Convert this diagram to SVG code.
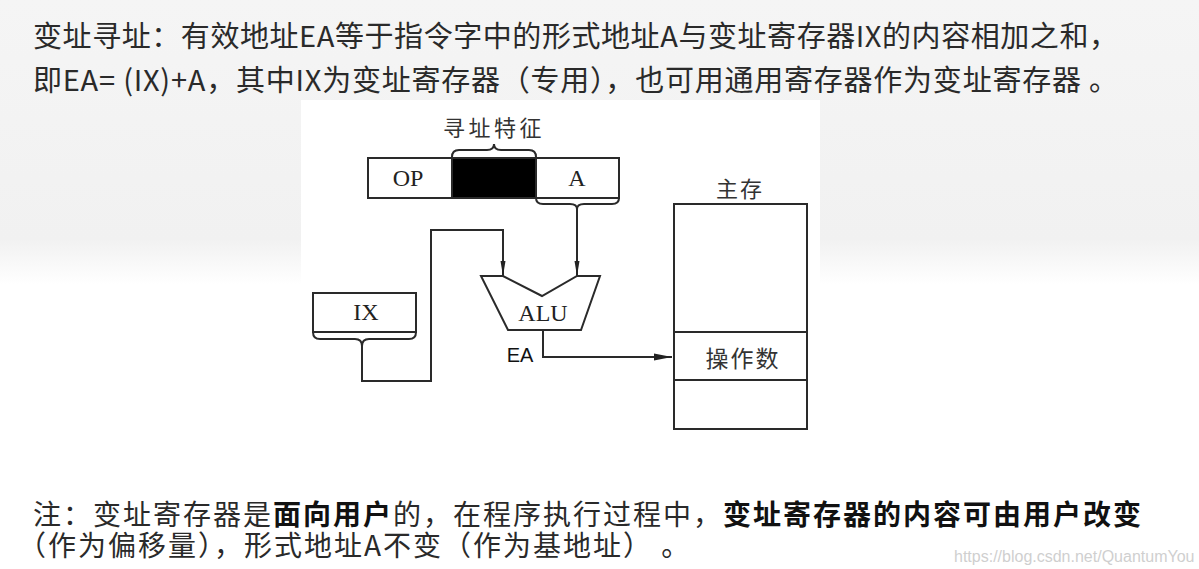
<svg xmlns="http://www.w3.org/2000/svg" width="1199" height="569" viewBox="0 0 1199 569">
<defs>
<linearGradient id="bg" x1="0" y1="0" x2="0" y2="1">
<stop offset="0" stop-color="#f5f5f5"/>
<stop offset="0.42" stop-color="#f1f1f1"/>
<stop offset="0.50" stop-color="#ffffff"/>
<stop offset="1" stop-color="#ffffff"/>
</linearGradient>
<marker id="arrDown" markerUnits="userSpaceOnUse" markerWidth="16" markerHeight="10" refX="15" refY="4" orient="auto">
<path d="M0,1.5 L15,4 L0,6.5 z" fill="#222"/>
</marker>
<marker id="arrRight" markerUnits="userSpaceOnUse" markerWidth="20" markerHeight="10" refX="18" refY="4.5" orient="auto">
<path d="M0,1 L18,4.5 L0,8 z" fill="#222"/>
</marker>
</defs>
<style>
.ln{fill:none;stroke:#2a2a2a;stroke-width:2}
.box{fill:#fff;stroke:#2a2a2a;stroke-width:2}
.top{font-family:"Noto Sans CJK SC","Noto Sans CJK JP",sans-serif;font-size:29px;fill:#2a2a2a}
.note{font-family:"Noto Sans CJK SC","Noto Sans CJK JP",sans-serif;font-size:28px;letter-spacing:2px;fill:#2a2a2a}
.b{font-weight:bold;fill:#111}
.ser{font-family:"Liberation Serif","Times New Roman",serif;font-size:24px;fill:#222;text-anchor:middle}
.cn{font-family:"Noto Sans CJK SC","Noto Sans CJK JP",sans-serif;fill:#333;text-anchor:middle}
</style>
<rect x="0" y="0" width="1199" height="569" fill="url(#bg)"/>
<rect x="301" y="100" width="519" height="469" fill="#ffffff"/>

<g id="header">
<text class="top" x="33" y="47" textLength="1085" lengthAdjust="spacing">变址寻址：有效地址EA等于指令字中的形式地址A与变址寄存器IX的内容相加之和，</text>
<text class="top" x="33" y="91" textLength="1085" lengthAdjust="spacing">即EA= (IX)+A，其中IX为变址寄存器（专用），也可用通用寄存器作为变址寄存器 。</text>
</g>

<g id="instruction">
<rect class="box" x="368" y="158" width="251" height="40"/>
<rect x="452" y="158" width="84" height="40" fill="#000" stroke="#2a2a2a" stroke-width="2"/>
<text class="ser" x="408" y="186">OP</text>
<text class="ser" x="577" y="186">A</text>
<path class="ln" d="M452,157 Q452,150 459,150 L487,150 Q494,150 494,144 Q494,150 501,150 L529,150 Q536,150 536,157"/>
<text class="cn" x="494" y="136" font-size="22" letter-spacing="3.5">寻址特征</text>
</g>

<g id="ix">
<rect class="box" x="313" y="293" width="103" height="39"/>
<text class="ser" x="366" y="320">IX</text>
</g>

<g id="alu">
<polygon class="box" points="481,276 503,276 542,296 577,276 600,276 581,330 508,330"/>
<text class="ser" x="543" y="321">ALU</text>
</g>

<g id="memory">
<rect class="box" x="674" y="204" width="133" height="225"/>
<line class="ln" x1="674" y1="332" x2="807" y2="332"/>
<line class="ln" x1="674" y1="380" x2="807" y2="380"/>
<text class="cn" x="740" y="197" font-size="22" letter-spacing="2">主存</text>
<text class="cn" x="743" y="367" font-size="23" letter-spacing="2">操作数</text>
</g>

<g id="connectors">
<path class="ln" d="M536,198 Q536,204 543,204 L570,204 Q577,204 577,209 Q577,204 584,204 L612,204 Q619,204 619,198"/>
<path class="ln" d="M577,209 L577,276" marker-end="url(#arrDown)"/>
<path class="ln" d="M313,332 Q313,339 320,339 L355,339 Q362,339 362,346 Q362,339 369,339 L409,339 Q416,339 416,332"/>
<path class="ln" d="M362,346 L362,381 L431,381 L431,230 L503,230 L503,276" marker-end="url(#arrDown)"/>
<path class="ln" d="M543,330 L543,357 L672,357" marker-end="url(#arrRight)"/>
<text x="520" y="362" font-family="Liberation Sans, Arial, sans-serif" font-size="20" fill="#111" text-anchor="middle">EA</text>
</g>

<g id="note">
<text class="note" x="33" y="525">注：变址寄存器是</text>
<text class="note b" x="273" y="525">面向用户</text>
<text class="note" x="393" y="525">的，在程序执行过程中，</text>
<text class="note b" x="723" y="525">变址寄存器的内容可由用户改变</text>
<text class="note" x="18" y="556">（作为偏移量），形式地址A不变（作为基地址） 。</text>
</g>

<text x="954" y="562" font-family="Liberation Sans, Arial, sans-serif" font-size="16" fill="#cfcfcf">https://blog.csdn.net/QuantumYou</text>
</svg>
